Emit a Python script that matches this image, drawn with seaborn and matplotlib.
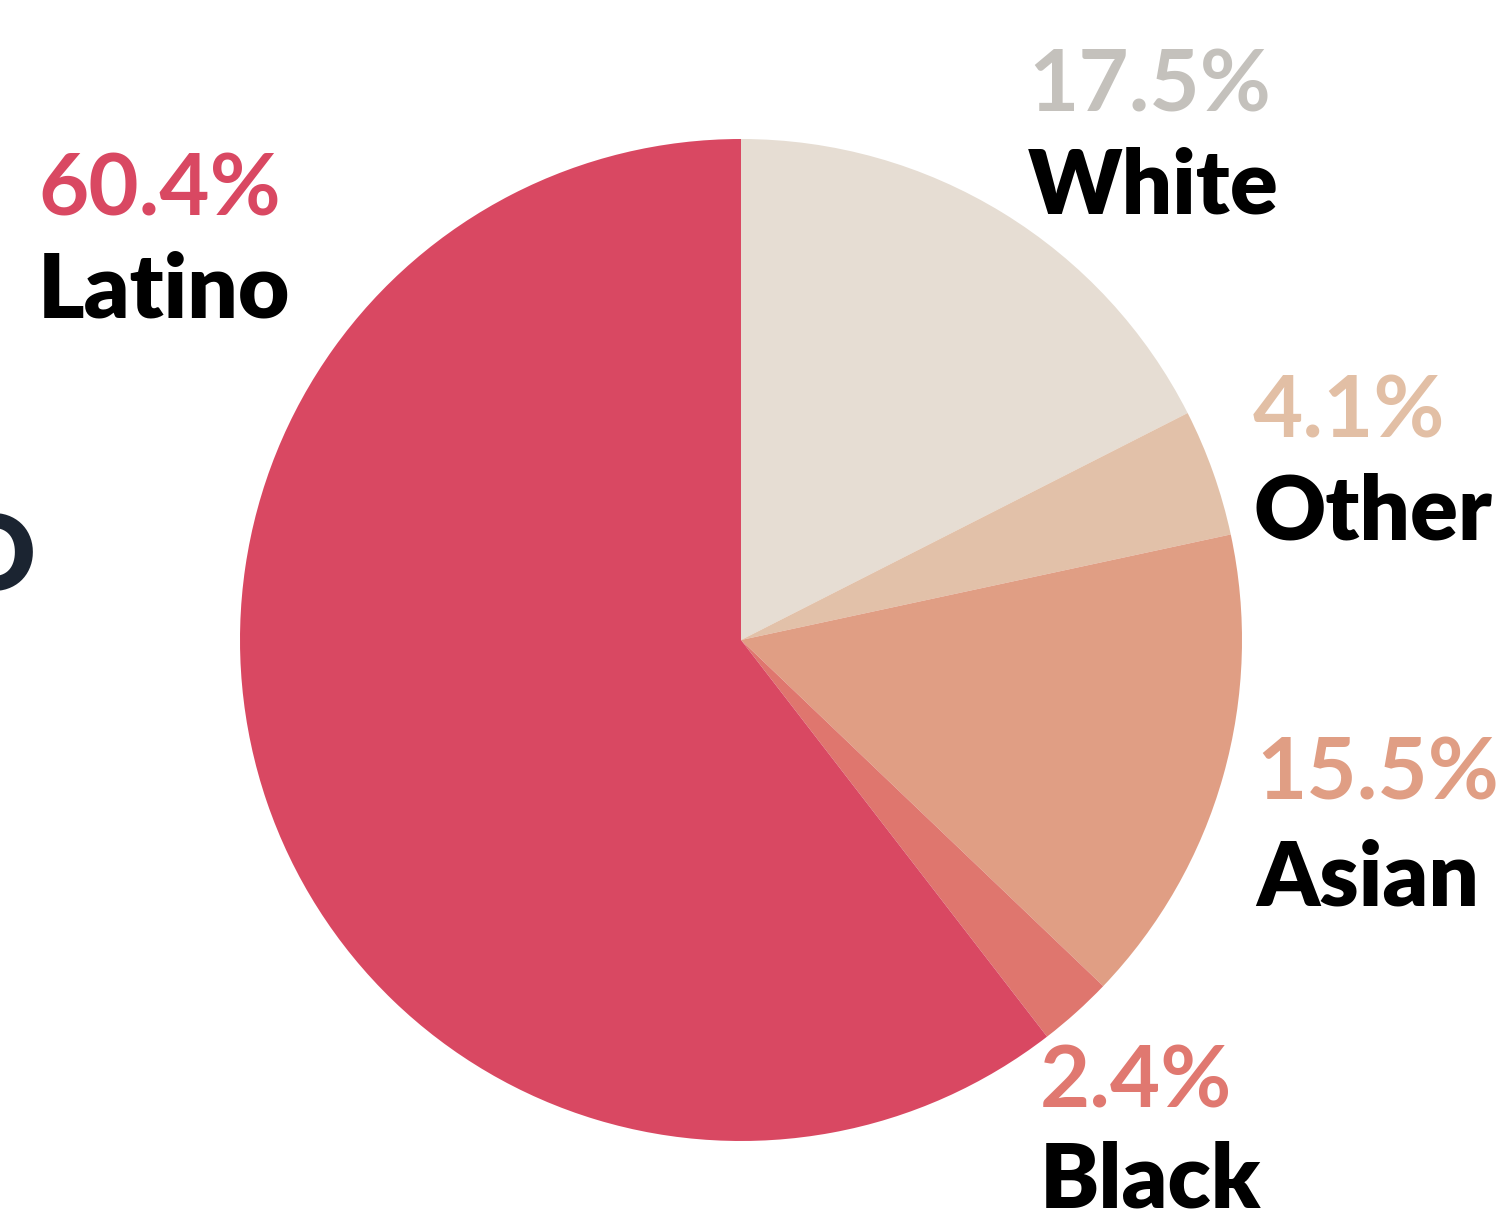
import matplotlib
matplotlib.use("Agg")
import matplotlib.pyplot as plt
import seaborn as sns

# Data
groups = ["White", "Other", "Asian", "Black", "Latino"]
shares = [17.5, 4.1, 15.5, 2.4, 60.4]
pct_labels = ["17.5%", "4.1%", "15.5%", "2.4%", "60.4%"]
wedge_colors = ["#E6DDD3", "#E2C1A9", "#E09E84", "#DF766E", "#D94862"]
pct_colors = ["#C4C1BC", "#E2BFA5", "#E09E84", "#E07870", "#D94862"]

sns.set_theme(style="white")
plt.rcParams['font.family'] = ['Lato', 'DejaVu Sans']

W, H = 1501, 1215
fig = plt.figure(figsize=(W / 100, H / 100), dpi=100)
ax = fig.add_axes([0, 0, 1, 1])

cx, cy, r = 741, H - 640, 501
ax.pie(shares, colors=wedge_colors, startangle=90, counterclock=False,
       center=(cx, cy), radius=r, wedgeprops=dict(linewidth=0))
ax.set_xlim(0, W)
ax.set_ylim(0, H)
ax.set_aspect('equal')
ax.axis('off')

# label anchor positions (pixel, baseline of pct line, baseline of name line)
pos = {
    "White": (1028, 112, 213),
    "Other": (1253, 437, 540),
    "Asian": (1256, 800, 905),
    "Black": (1040, 1108, 1208),
    "Latino": (38, 216, 318),
}
for g, p, pc in zip(groups, pct_labels, pct_colors):
    x, yp, yn = pos[g]
    ax.text(x, H - yp, p, color=pc, fontsize=62.5, fontweight='bold',
            ha='left', va='baseline')
    ax.text(x, H - yn, g, color='#000000', fontsize=64, fontweight='heavy',
            ha='left', va='baseline')

# cut-off title glyph at left edge
ax.text(36, H - 590, "O", color='#1B2431', fontsize=75, fontweight='heavy',
        ha='right', va='baseline')

fig.savefig("out.png", dpi=100, facecolor='white')
